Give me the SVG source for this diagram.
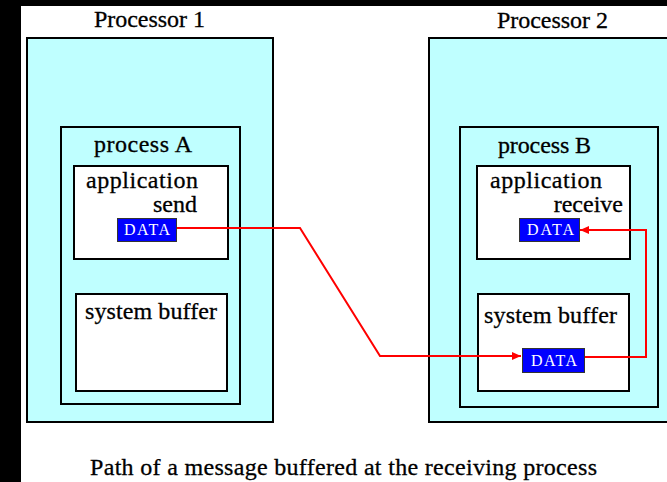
<svg xmlns="http://www.w3.org/2000/svg" width="667" height="482" viewBox="0 0 667 482">
<style>
.proc{fill:#BFFFFF;stroke:#000;stroke-width:2}
.box{fill:#FFFFFF;stroke:#000;stroke-width:2}
.data{fill:#0000FF;stroke:#333;stroke-width:1}
text{font-family:'Liberation Serif','DejaVu Serif',serif}
.lbl{font-size:24px;fill:#000;stroke:#000;stroke-width:0.3}
.dt{font-size:16px;fill:#FFFFFF}
.conn{fill:none;stroke:#FF0000;stroke-width:2}
</style>
<defs>
<marker id="arr" markerUnits="userSpaceOnUse" markerWidth="10" markerHeight="10" refX="9" refY="5" orient="auto">
<path d="M0,1 L9,5 L0,9 Z" fill="#FF0000"/>
</marker>
</defs>
<rect x="0" y="0" width="667" height="482" fill="#000"/>
<rect x="21" y="6" width="646" height="476" fill="#FFF"/>
<g id="processor1">
<rect class="proc" x="27" y="38" width="246" height="384"/>
<text class="lbl" x="94" y="27" textLength="111" lengthAdjust="spacing">Processor 1</text>
</g>
<g id="processor2">
<rect class="proc" x="429" y="38" width="260" height="384"/>
<text class="lbl" x="497" y="28" textLength="111" lengthAdjust="spacing">Processor 2</text>
</g>
<g id="processA">
<rect class="proc" x="61" y="127" width="179" height="277"/>
<text class="lbl" x="94" y="152" textLength="98" lengthAdjust="spacing">process A</text>
</g>
<g id="processB">
<rect class="proc" x="460" y="127" width="198" height="280"/>
<text class="lbl" x="498" y="153" textLength="93" lengthAdjust="spacing">process B</text>
</g>
<g id="appA">
<rect class="box" x="74" y="166" width="154" height="93"/>
<text class="lbl" x="86" y="188" textLength="112" lengthAdjust="spacing">application</text>
<text class="lbl" x="197" y="212" text-anchor="end">send</text>
</g>
<g id="appB">
<rect class="box" x="477" y="166" width="153" height="93"/>
<text class="lbl" x="490" y="188" textLength="112" lengthAdjust="spacing">application</text>
<text class="lbl" x="623" y="212" text-anchor="end">receive</text>
</g>
<g id="bufA">
<rect class="box" x="76" y="294" width="151" height="97"/>
<text class="lbl" x="85" y="319" textLength="132" lengthAdjust="spacing">system buffer</text>
</g>
<g id="bufB">
<rect class="box" x="478" y="294" width="151" height="97"/>
<text class="lbl" x="484" y="323" textLength="133" lengthAdjust="spacing">system buffer</text>
</g>
<g id="dataSend">
<rect class="data" x="117.5" y="218.5" width="59" height="23"/>
<text class="dt" x="124" y="235" textLength="46" lengthAdjust="spacing">DATA</text>
</g>
<g id="dataRecv">
<rect class="data" x="519.5" y="218.5" width="60" height="23"/>
<text class="dt" x="527" y="235" textLength="47" lengthAdjust="spacing">DATA</text>
</g>
<g id="dataBuf">
<rect class="data" x="522.5" y="348.5" width="62" height="24"/>
<text class="dt" x="531" y="366" textLength="46" lengthAdjust="spacing">DATA</text>
</g>
<g id="connectors">
<path class="conn" d="M177,228 H300 L380,356 H521" marker-end="url(#arr)"/>
<path class="conn" d="M585,357 H646 V230 H580" marker-end="url(#arr)"/>
</g>
<text class="lbl" x="90" y="475" textLength="507" lengthAdjust="spacing">Path of a message buffered at the receiving process</text>
</svg>
